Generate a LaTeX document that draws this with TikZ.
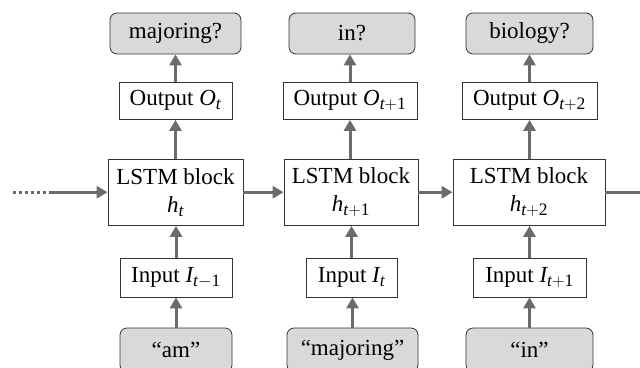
\documentclass[tikz,border=0pt]{standalone}
\usepackage{fontspec}
\setmainfont{Liberation Serif}
\usetikzlibrary{arrows.meta}
\DeclareMathSizes{23}{23}{17.5}{13}
\newcommand{\mv}[1]{\mathit{#1}}
\begin{document}
\begin{tikzpicture}[x=1pt,y=1pt,
  box/.style={draw=black!80, line width=0.8pt, fill=white, inner sep=0pt,
    font=\fontsize{23}{28}\selectfont, align=center},
  word/.style={box, fill=black!15, rounded corners=7pt},
  arr/.style={draw=black!58, line width=3pt, -{Triangle[length=11pt,width=12pt]}},
  dotline/.style={draw=black!58, line width=3pt, dash pattern=on 3pt off 3pt}]
\useasboundingbox (0,0) rectangle (640,367);
% column 1
\node[word, minimum width=131, minimum height=41] (top1) at (175.5,333.5) {majoring?};
\node[box, minimum width=113, minimum height=37.5] (out1) at (175.5,266.25) {Output $\mv{O}_{\mv{t}}$};
\node[box, minimum width=135, minimum height=66.5] (lstm1) at (175.5,174.75) {LSTM block\\$\mv{h}_{\mv{t}}$};
\node[box, minimum width=112, minimum height=38.5] (in1) at (176,89.25) {Input $\mv{I}_{\mv{t}-\mathrm{1}}$};
\node[word, minimum width=112, minimum height=44] (bot1) at (176,17) {“am”};
% column 2
\node[word, minimum width=126, minimum height=41] (top2) at (352,333.5) {in?};
\node[box, minimum width=134, minimum height=37.5] (out2) at (350,266.25) {Output $\mv{O}_{\mv{t}+\mathrm{1}}$};
\node[box, minimum width=134, minimum height=66.5] (lstm2) at (351,174.75) {LSTM block\\$\mv{h}_{\mv{t}+\mathrm{1}}$};
\node[box, minimum width=91, minimum height=38.5] (in2) at (351.5,89.25) {Input $\mv{I}_{\mv{t}}$};
\node[word, minimum width=131, minimum height=44] (bot2) at (352.5,17) {“majoring”};
% column 3
\node[word, minimum width=127, minimum height=41] (top3) at (529.5,333.5) {biology?};
\node[box, minimum width=135, minimum height=37.5] (out3) at (529.5,266.25) {Output $\mv{O}_{\mv{t}+\mathrm{2}}$};
\node[box, minimum width=152, minimum height=66.5] (lstm3) at (529,174.75) {LSTM block\\$\mv{h}_{\mv{t}+\mathrm{2}}$};
\node[box, minimum width=113, minimum height=38.5] (in3) at (529.5,89.25) {Input $\mv{I}_{\mv{t}+\mathrm{1}}$};
\node[word, minimum width=127, minimum height=44] (bot3) at (529.5,17) {“in”};
% side coordinates
\coordinate (dstart) at (13,174.75);
\coordinate (dend) at (50,174.75);
\coordinate (rend) at (652,174.75);
% vertical arrows
\foreach \i in {1,2,3}{
  \draw[arr] (bot\i.north) -- (in\i.south -| bot\i.north);
  \draw[arr] (in\i.north) -- (lstm\i.south -| in\i.north);
  \draw[arr] (lstm\i.north -| out\i.south) -- (out\i.south);
  \draw[arr] (out\i.north) -- (top\i.south -| out\i.north);
}
% horizontal arrows
\draw[dotline] (dstart) -- (dend);
\draw[arr] (dend) -- (lstm1.west);
\draw[arr] (lstm1.east) -- (lstm2.west);
\draw[arr] (lstm2.east) -- (lstm3.west);
\draw[arr] (lstm3.east) -- (rend);
\end{tikzpicture}
\end{document}
